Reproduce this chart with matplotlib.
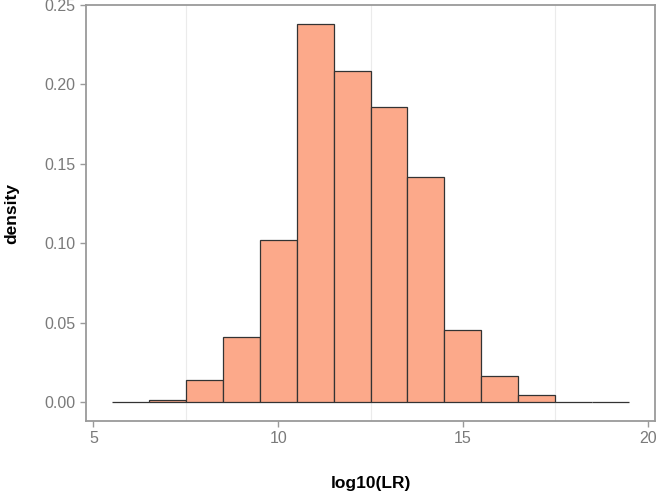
import numpy as np
import matplotlib.pyplot as plt

plt.rcParams['font.family'] = ['Liberation Sans', 'DejaVu Sans']

# histogram bins (centers, width 1) and density heights
bin_centers = [6, 7, 8, 9, 10, 11, 12, 13, 14, 15, 16, 17, 18, 19]
density = [0.0, 0.0015, 0.0139, 0.0410, 0.1022, 0.2380, 0.2085, 0.1860,
           0.1417, 0.0453, 0.0164, 0.0044, 0.0, 0.0]
x_ticks = [5, 10, 15, 20]
y_ticks = [0.00, 0.05, 0.10, 0.15, 0.20, 0.25]

fig = plt.figure(figsize=(6.58, 4.95), dpi=100)
ax = fig.add_axes([86/658, 74/495, 569/658, 416/495])

# faint minor vertical grid
for gx in [7.5, 12.5, 17.5]:
    ax.axvline(gx, color='#ebebeb', lw=0.8, zorder=0)

ax.bar(bin_centers, density, width=1.0, color='#FCA98A',
       edgecolor='#333333', linewidth=0.9, zorder=2)

ax.set_xlim(4.8, 20.2)
ax.set_ylim(-0.0119, 0.2499)
ax.set_xticks(x_ticks)
ax.set_yticks(y_ticks)
ax.set_yticklabels([f"{v:.2f}" for v in y_ticks])

for s in ax.spines.values():
    s.set_color('#9a9a9a')
    s.set_linewidth(1.3)
ax.tick_params(colors='#9a9a9a', labelcolor='#7a7a7a', labelsize=11.5,
               length=4, width=1.0)

ax.set_xlabel('log10(LR)', fontsize=12.5, fontweight='bold')
ax.set_ylabel('density', fontsize=12.5, fontweight='bold')
ax.xaxis.set_label_coords(0.5, -0.133)
ax.yaxis.set_label_coords(-0.117, 0.5)

fig.savefig('out.png', dpi=100)
